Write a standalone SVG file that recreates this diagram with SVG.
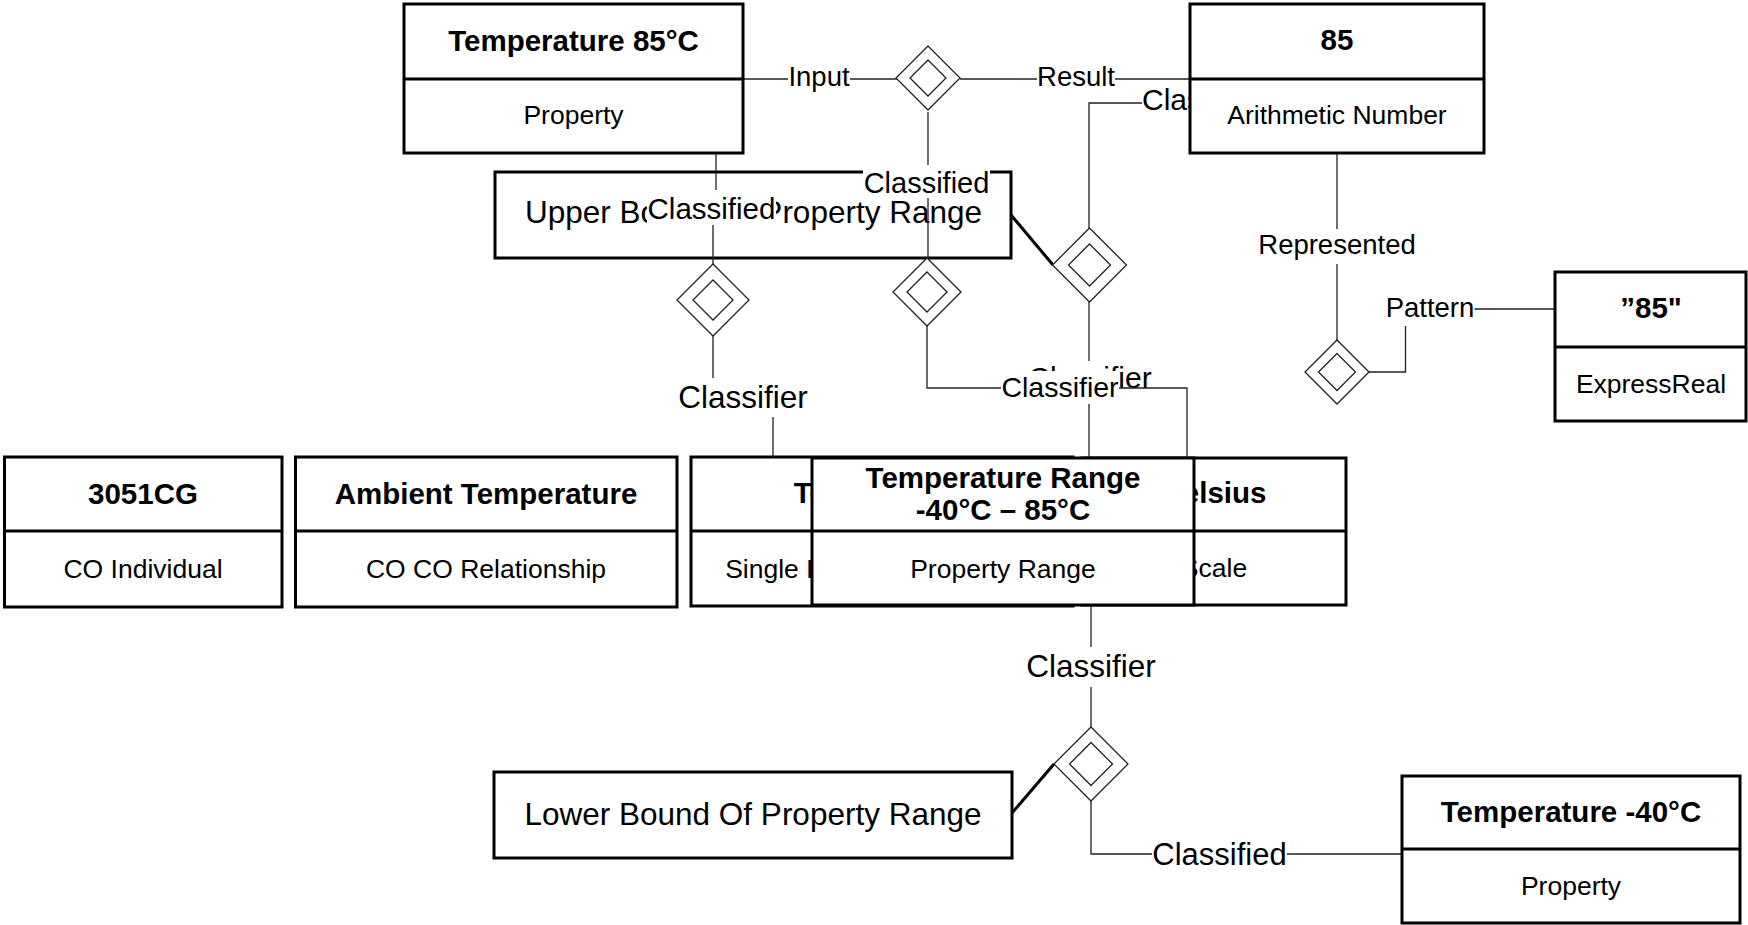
<svg xmlns="http://www.w3.org/2000/svg" width="1748" height="925" viewBox="0 0 1748 925">
<style>
.box{fill:#fff;stroke:#000;stroke-width:3}
.div{stroke:#000;stroke-width:3}
.t{font-family:"Liberation Sans",Arial,sans-serif;font-weight:bold;font-size:29.5px;text-anchor:middle;fill:#000}
.s{font-family:"Liberation Sans",Arial,sans-serif;font-size:26.5px;text-anchor:middle;fill:#000}
.big{font-family:"Liberation Sans",Arial,sans-serif;font-size:31.5px;text-anchor:middle;fill:#000}
.c{fill:none;stroke:#222;stroke-width:1.3}
.thick{fill:none;stroke:#000;stroke-width:3}
.lb{fill:#fff;stroke:none}
.l{font-family:"Liberation Sans",Arial,sans-serif;text-anchor:middle;fill:#000}
.dia{fill:#fff;stroke:#222;stroke-width:1.3}
</style>
<rect width="1748" height="925" fill="#fff"/>

<!-- nodes hidden behind the range box -->
<g id="n_temperature">
<rect class="box" x="691" y="457" width="382" height="149"/>
<line class="div" x1="691" y1="531" x2="1073" y2="531"/>
<text class="t" x="882" y="503">Temperature</text>
<text class="s" x="882" y="578">Single Property Dimension</text>
</g>
<g id="n_celsius">
<rect class="box" x="1082" y="458" width="264" height="147"/>
<line class="div" x1="1082" y1="531" x2="1346" y2="531"/>
<text class="t" x="1214" y="503">Celsius</text>
<text class="s" x="1214" y="577">Scale</text>
</g>
<g id="n_upper_bound">
<rect class="box" x="495" y="172" width="516" height="86"/>
<text class="big" x="753.5" y="223">Upper Bound Of Property Range</text>
</g>

<g id="connectors">
<g id="c_input"><polyline class="c" points="743,79 897,79"/><rect class="lb" x="788" y="60" width="62" height="31"/><text class="l" font-size="27.5" x="819" y="86">Input</text></g>
<g id="c_result"><polyline class="c" points="960,79 1190,79"/><rect class="lb" x="1037" y="60" width="78" height="31"/><text class="l" font-size="27.5" x="1076" y="86">Result</text></g>
<g id="c_classified_d1"><polyline class="c" points="928,112 928,258"/><rect class="lb" x="863" y="165" width="127" height="33"/><text class="l" font-size="29" x="926.5" y="193">Classified</text></g>
<g id="c_classified_t85"><polyline class="c" points="716,153 716,206 713,206 713,264"/><rect class="lb" x="647" y="190" width="129" height="35"/><text class="l" font-size="29.5" x="711.5" y="219">Classified</text></g>
<g id="c_classified_85"><polyline class="c" points="1089,228 1089,103 1190,103"/><rect class="lb" x="1142" y="81" width="131" height="35"/><text class="l" font-size="30" x="1207" y="110">Classified</text></g>
<g id="c_represented"><polyline class="c" points="1337,153 1337,340"/><rect class="lb" x="1258" y="229" width="158" height="35"/><text class="l" font-size="27.5" x="1337" y="254">Represented</text></g>
<g id="c_pattern"><polyline class="c" points="1369,372 1405.5,372 1405.5,309 1555,309"/><rect class="lb" x="1385.5" y="292" width="89" height="34"/><text class="l" font-size="27.5" x="1430" y="317">Pattern</text></g>
<g id="c_classifier_d2"><polyline class="c" points="713,336 713,396 773,396 773,457"/><rect class="lb" x="678" y="378" width="130" height="39"/><text class="l" font-size="31.5" x="743" y="408">Classifier</text></g>
<g id="c_classifier_d4"><polyline class="c" points="1089,302 1089,458"/><rect class="lb" x="1028" y="361" width="124" height="35"/><text class="l" font-size="30" x="1090" y="388">Classifier</text></g>
<g id="c_classifier_d3"><polyline class="c" points="927,326 927,388 1187,388 1187,458"/><rect class="lb" x="1001" y="371" width="118" height="33"/><text class="l" font-size="28.5" x="1060" y="397">Classifier</text></g>
<g id="c_upper"><polyline class="thick" points="1011,215 1053,265"/></g>
<g id="c_lower"><polyline class="thick" points="1012,813 1054,764"/></g>
<g id="c_classifier_d6"><polyline class="c" points="1091,605 1091,727"/><rect class="lb" x="1026" y="647" width="130" height="40"/><text class="l" font-size="31.5" x="1091" y="677">Classifier</text></g>
<g id="c_classified_d6"><polyline class="c" points="1091,801 1091,854 1402,854"/><rect class="lb" x="1152" y="836" width="135" height="36"/><text class="l" font-size="31" x="1219.5" y="865">Classified</text></g>
</g>

<g id="d1"><polygon class="dia" points="928,46 960,78 928,110 896,78"/><polygon class="dia" points="928,60 946,78 928,96 910,78"/></g>
<g id="d2"><polygon class="dia" points="713,264 749,300 713,336 677,300"/><polygon class="dia" points="713,280 733,300 713,320 693,300"/></g>
<g id="d3"><polygon class="dia" points="927,258 961,292 927,326 893,292"/><polygon class="dia" points="927,272 947,292 927,312 907,292"/></g>
<g id="d4"><polygon class="dia" points="1089.5,228 1126.5,265 1089.5,302 1052.5,265"/><polygon class="dia" points="1089.5,244 1110.5,265 1089.5,286 1068.5,265"/></g>
<g id="d5"><polygon class="dia" points="1337,340 1369,372 1337,404 1305,372"/><polygon class="dia" points="1337,353.5 1355.5,372 1337,390.5 1318.5,372"/></g>
<g id="d6"><polygon class="dia" points="1091,727 1128,764 1091,801 1054,764"/><polygon class="dia" points="1091,742.5 1112.5,764 1091,785.5 1069.5,764"/></g>

<g id="n_temp85">
<rect class="box" x="404" y="4" width="339" height="149"/>
<line class="div" x1="404" y1="79" x2="743" y2="79"/>
<text class="t" x="573.5" y="51">Temperature 85°C</text>
<text class="s" x="573.5" y="124">Property</text>
</g>
<g id="n_85">
<rect class="box" x="1190" y="4" width="294" height="149"/>
<line class="div" x1="1190" y1="79" x2="1484" y2="79"/>
<text class="t" x="1337" y="50">85</text>
<text class="s" x="1337" y="124">Arithmetic Number</text>
</g>
<g id="n_85_string">
<rect class="box" x="1555" y="272" width="191" height="149"/>
<line class="div" x1="1555" y1="347" x2="1746" y2="347"/>
<text class="t" x="1651" y="318">”85"</text>
<text class="s" x="1651" y="393">ExpressReal</text>
</g>
<g id="n_3051cg">
<rect class="box" x="4.5" y="457" width="277.5" height="150"/>
<line class="div" x1="4.5" y1="531" x2="282" y2="531"/>
<text class="t" x="143" y="504">3051CG</text>
<text class="s" x="143" y="578">CO Individual</text>
</g>
<g id="n_ambient">
<rect class="box" x="295.5" y="457" width="381.5" height="150"/>
<line class="div" x1="295.5" y1="531" x2="677" y2="531"/>
<text class="t" x="486" y="504">Ambient Temperature</text>
<text class="s" x="486" y="578">CO CO Relationship</text>
</g>
<g id="n_range">
<rect class="box" x="812" y="458" width="382" height="147"/>
<line class="div" x1="812" y1="531" x2="1194" y2="531"/>
<text class="t" x="1003" y="488">Temperature Range</text>
<text class="t" x="1003" y="520">-40°C – 85°C</text>
<text class="s" x="1003" y="578">Property Range</text>
</g>
<g id="n_lower_bound">
<rect class="box" x="494" y="772" width="518" height="86"/>
<text class="big" x="753" y="825">Lower Bound Of Property Range</text>
</g>
<g id="n_temp_minus40">
<rect class="box" x="1402" y="776" width="338" height="147"/>
<line class="div" x1="1402" y1="849" x2="1740" y2="849"/>
<text class="t" x="1571" y="822">Temperature -40°C</text>
<text class="s" x="1571" y="895">Property</text>
</g>
</svg>
